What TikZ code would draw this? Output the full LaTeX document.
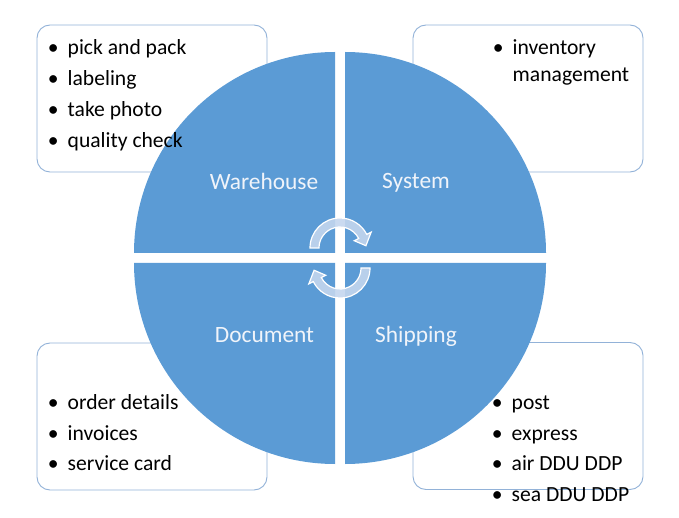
\documentclass[tikz,border=0pt]{standalone}
\usepackage{fontspec}
\setmainfont{Carlito}
\usetikzlibrary{positioning}

\definecolor{quadblue}{RGB}{91,155,213}
\definecolor{boxline}{RGB}{146,178,216}
\definecolor{cycfill}{RGB}{196,214,238}
\definecolor{lbltext}{RGB}{240,244,250}

\newcommand{\itm}[1]{\makebox[0pt]{\textbullet}\hspace{14.5pt}#1}

\begin{document}
\begin{tikzpicture}[
  x=1pt, y=-1pt,
  box/.style  = {draw=boxline, line width=0.9pt, rounded corners=13pt,
                 fill=white, minimum width=230pt, minimum height=147pt},
  quad/.style = {fill=quadblue},
  cyc/.style  = {fill=cycfill, draw=white, line width=1.2pt, fill opacity=0.9},
  lbl/.style  = {text=lbltext, font=\fontsize{23.4}{28}\selectfont,
                 inner sep=0pt, anchor=base},
  list/.style = {font=\fontsize{21.6}{30.8}\selectfont,
                 inner sep=0pt, anchor=base west}
]
\useasboundingbox (0,0) rectangle (679,518);

% boxes behind the circle
\node[box] (whbox) at (152,98.5)  {};
\node[box] (sybox) at (528,98.5)  {};
\node[box] (dcbox) at (152,416.5) {};
\node[box] (shbox) at (528,416)   {};

% four quarters
\fill[quad] (335,253) -- ++(180:201) arc[start angle=180, end angle=270, radius=201] -- cycle;
\fill[quad] (345,253) -- ++(270:201) arc[start angle=270, end angle=360, radius=201] -- cycle;
\fill[quad] (345,263) -- ++(0:201)   arc[start angle=0,   end angle=90,  radius=201] -- cycle;
\fill[quad] (335,263) -- ++(90:201)  arc[start angle=90,  end angle=180, radius=201] -- cycle;

% cycle arrows
\coordinate (ca) at (340,248);
\coordinate (cb) at (340,268);
\path[cyc] ([shift={(180:30)}]ca) arc[start angle=180, end angle=333, radius=30]
  -- ([shift={(333:35)}]ca) -- ([shift={(355:26)}]ca) -- ([shift={(333:16)}]ca)
  -- ([shift={(333:21)}]ca) arc[start angle=333, end angle=180, radius=21] -- cycle;
\path[cyc] ([shift={(0:30)}]cb) arc[start angle=0, end angle=153, radius=30]
  -- ([shift={(153:35)}]cb) -- ([shift={(175:26)}]cb) -- ([shift={(153:16)}]cb)
  -- ([shift={(153:21)}]cb) arc[start angle=153, end angle=0, radius=21] -- cycle;

% quarter labels
\node[lbl] (wh) at (264,190) {Warehouse};
\node[lbl] (sy) at (416,189) {System};
\node[lbl] (dc) at (264.5,342) {Document};
\node[lbl] (sh) at (416,342) {Shipping};

% bullet lists
\node[list] (whlist) at (53,55) {\begin{tabular}[t]{@{}l@{}}
  \itm{pick and pack}\\ \itm{labeling}\\ \itm{take photo}\\ \itm{quality check}
\end{tabular}};
\node[list] (sylist) at (498,54.3) {\begin{tabular}[t]{@{}l@{}}
  \itm{inventory}\\[-3.8pt] \hspace{14.5pt}management
\end{tabular}};
\node[list] (dclist) at (53,409.3) {\begin{tabular}[t]{@{}l@{}}
  \itm{order details}\\ \itm{invoices}\\ \itm{service card}
\end{tabular}};
\node[list] (shlist) at (497,409.3) {\begin{tabular}[t]{@{}l@{}}
  \itm{post}\\ \itm{express}\\ \itm{air DDU DDP}\\ \itm{sea DDU DDP}
\end{tabular}};

\end{tikzpicture}
\end{document}
